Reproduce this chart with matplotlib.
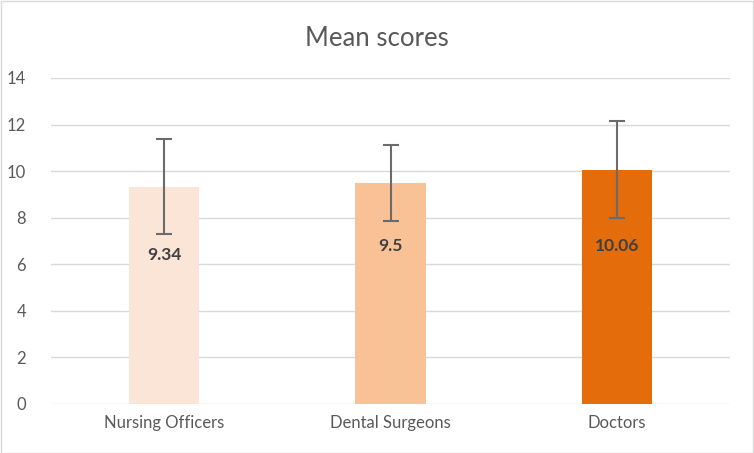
import matplotlib
matplotlib.use('Agg')
import matplotlib.pyplot as plt
from matplotlib.patches import Rectangle

categories = ['Nursing Officers', 'Dental Surgeons', 'Doctors']
means = [9.34, 9.5, 10.06]
errors = [2.06, 1.62, 2.08]
labels = ['9.34', '9.5', '10.06']
label_y = [6.4, 6.8, 6.8]
colors = ['#FBE5D6', '#F8C196', '#E46C0A']

plt.rcParams['font.family'] = ['Lato', 'DejaVu Sans']

fig = plt.figure(figsize=(7.54, 4.53), dpi=100)
ax = fig.add_axes([51 / 754, 1 - 404 / 453, 679 / 754, 326 / 453])

x = range(len(categories))
ax.bar(x, means, width=0.31, color=colors, zorder=2)
ax.errorbar(x, means, yerr=errors, fmt='none', ecolor='#6B6B6B', elinewidth=1.5,
            capsize=6, capthick=1.5, zorder=3)
for i, (txt, y) in enumerate(zip(labels, label_y)):
    ax.text(i, y, txt, ha='center', va='center', fontsize=12.5, fontweight='bold',
            color='#404040', zorder=4)

ax.set_xlim(-0.5, 2.5)
ax.set_ylim(0, 14)
ax.set_yticks(range(0, 15, 2))
ax.set_xticks(list(x))
ax.set_xticklabels(categories)
ax.grid(axis='y', color='#D9D9D9', linewidth=1, zorder=0)
for s in ax.spines.values():
    s.set_visible(False)
ax.tick_params(length=0, colors='#595959', labelsize=12)
ax.tick_params(axis='y', pad=18)
ax.tick_params(axis='x', pad=8)

fig.text(0.5, 1 - 38 / 453, 'Mean scores', ha='center', va='center', fontsize=18.5, color='#595959')
fig.patches.append(Rectangle((0.5 / 754, 0.5 / 453), 1 - 1.5 / 754, 1 - 1.5 / 453,
                             transform=fig.transFigure, fill=False, edgecolor='#D9D9D9', linewidth=1))

fig.savefig('out.png', dpi=100)
